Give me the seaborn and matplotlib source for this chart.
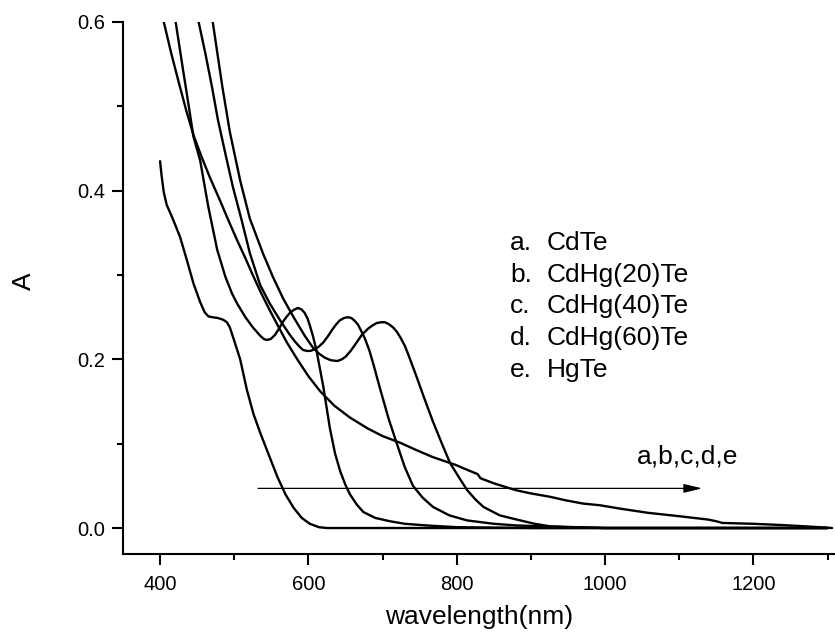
import numpy as np
import pandas as pd
import matplotlib
matplotlib.use("Agg")
import matplotlib.pyplot as plt
import seaborn as sns
from matplotlib.ticker import MultipleLocator, FormatStrFormatter

# ---------------- data ----------------
samples = ["CdTe", "CdHg(20)Te", "CdHg(40)Te", "CdHg(60)Te", "HgTe"]
letters = ["a.", "b.", "c.", "d.", "e."]

wl_a = [400, 402, 405, 409, 416, 427, 436, 445, 454, 460, 465, 470, 478, 485,
        490, 494, 500, 508, 517, 526, 535, 546, 558, 569, 580, 591, 602, 614,
        625, 700, 800, 900, 1000, 1100, 1200, 1300]
A_a = [0.435, 0.418, 0.398, 0.383, 0.369, 0.345, 0.318, 0.290, 0.268, 0.256,
       0.251, 0.250, 0.249, 0.247, 0.244, 0.238, 0.222, 0.200, 0.164, 0.135,
       0.113, 0.088, 0.061, 0.040, 0.024, 0.012, 0.005, 0.001, 0.0,
       0.0, 0.0, 0.0, 0.0, 0.0, 0.0, 0.0]

wl_b = [421, 431, 438, 445, 454, 465, 477, 488, 497, 504, 515, 525, 535, 540,
        544, 549, 555, 560, 566, 571, 576, 581, 586, 591, 595, 599, 602, 606,
        611, 620, 629, 636, 643, 650, 656, 665, 674, 690, 710, 730, 760, 800,
        900, 1000, 1100, 1200, 1300]
A_b = [0.600, 0.543, 0.504, 0.464, 0.436, 0.381, 0.330, 0.298, 0.278, 0.266,
       0.250, 0.238, 0.228, 0.224, 0.223, 0.224, 0.229, 0.236, 0.245, 0.251,
       0.256, 0.259, 0.261, 0.259, 0.255, 0.248, 0.240, 0.228, 0.210, 0.168,
       0.118, 0.088, 0.067, 0.051, 0.040, 0.028, 0.019, 0.012, 0.008, 0.005,
       0.003, 0.001, 0.0, 0.0, 0.0, 0.0, 0.0]

wl_c = [452, 461, 470, 478, 488, 498, 510, 521, 535, 548, 562, 575, 582, 588,
        593, 598, 603, 608, 614, 620, 626, 632, 637, 642, 648, 653, 658, 662,
        667, 671, 676, 682, 688, 697, 708, 720, 730, 741, 754, 768, 790, 814,
        850, 881, 950, 1000, 1100, 1200, 1300]
A_c = [0.600, 0.563, 0.523, 0.484, 0.444, 0.405, 0.365, 0.326, 0.288, 0.266,
       0.246, 0.229, 0.221, 0.215, 0.211, 0.210, 0.210, 0.212, 0.215, 0.220,
       0.227, 0.235, 0.241, 0.246, 0.249, 0.250, 0.249, 0.246, 0.241, 0.234,
       0.225, 0.211, 0.193, 0.164, 0.130, 0.098, 0.072, 0.050, 0.036, 0.025,
       0.015, 0.009, 0.005, 0.003, 0.001, 0.0, 0.0, 0.0, 0.0]

wl_d = [471, 484, 494, 508, 521, 539, 552, 566, 580, 595, 606, 614, 622, 630,
        639, 645, 650, 657, 665, 672, 680, 686, 692, 698, 703, 708, 714, 719,
        724, 730, 735, 746, 757, 768, 780, 791, 803, 814, 825, 836, 858, 881,
        905, 926, 960, 1000, 1100, 1200, 1300]
A_d = [0.600, 0.523, 0.470, 0.412, 0.367, 0.325, 0.298, 0.272, 0.250, 0.228,
       0.214, 0.207, 0.202, 0.199, 0.198, 0.200, 0.203, 0.210, 0.220, 0.229,
       0.236, 0.240, 0.243, 0.244, 0.244, 0.242, 0.238, 0.233, 0.226, 0.216,
       0.205, 0.179, 0.152, 0.126, 0.100, 0.077, 0.060, 0.045, 0.034, 0.025,
       0.015, 0.010, 0.005, 0.002, 0.001, 0.0, 0.0, 0.0, 0.0]

wl_e = [405, 415, 425, 435, 445, 456, 467, 481, 493, 504, 515, 525, 536, 548,
        560, 571, 585, 600, 616, 635, 656, 680, 700, 724, 744, 768, 798, 814,
        828, 832, 850, 879, 900, 926, 946, 970, 993, 1020, 1058, 1100, 1139,
        1150, 1158, 1200, 1239, 1270, 1306]
A_e = [0.600, 0.563, 0.529, 0.496, 0.466, 0.440, 0.416, 0.388, 0.363, 0.341,
       0.320, 0.300, 0.279, 0.258, 0.238, 0.220, 0.200, 0.180, 0.162, 0.145,
       0.131, 0.118, 0.109, 0.101, 0.093, 0.084, 0.075, 0.069, 0.064, 0.059,
       0.053, 0.045, 0.041, 0.037, 0.033, 0.029, 0.027, 0.023, 0.018, 0.014,
       0.010, 0.008, 0.006, 0.005, 0.0035, 0.002, 0.0]

x_ticks = [400, 600, 800, 1000, 1200]
y_ticks = [0.0, 0.2, 0.4, 0.6]
arrow_label = "a,b,c,d,e"
arrow_x = [532, 1131]
arrow_y = 0.047

# ---------------- build table ----------------
series = [(wl_a, A_a), (wl_b, A_b), (wl_c, A_c), (wl_d, A_d), (wl_e, A_e)]
frames = []
for name, (w, a) in zip(samples, series):
    frames.append(pd.DataFrame({"wavelength": w, "A": a, "sample": name}))
df = pd.concat(frames, ignore_index=True)

# ---------------- style ----------------
sns.set_style("ticks")
plt.rcParams["font.family"] = ["Liberation Sans", "DejaVu Sans"]
plt.rcParams["text.color"] = "black"
plt.rcParams["axes.labelcolor"] = "black"
plt.rcParams["xtick.color"] = "black"
plt.rcParams["ytick.color"] = "black"
plt.rcParams["lines.solid_joinstyle"] = "round"

fig = plt.figure(figsize=(8.35, 6.34), dpi=100)
ax = fig.add_axes([0.1473, 0.1262, 0.8527, 0.8391])

sns.lineplot(data=df, x="wavelength", y="A", hue="sample",
             palette={s: "black" for s in samples}, estimator=None,
             sort=False, legend=False, linewidth=1.7, ax=ax)

ax.set_xlim(350, 1310)
ax.set_ylim(-0.0308, 0.6)
ax.set_xticks(x_ticks)
ax.set_yticks(y_ticks)
ax.xaxis.set_minor_locator(MultipleLocator(100))
ax.yaxis.set_minor_locator(MultipleLocator(0.1))
ax.yaxis.set_major_formatter(FormatStrFormatter("%.1f"))

for s in ["top", "right"]:
    ax.spines[s].set_visible(False)
for s in ["left", "bottom"]:
    ax.spines[s].set_linewidth(1.5)
    ax.spines[s].set_color("black")

ax.tick_params(which="major", length=8, width=1.5, direction="out",
               labelsize=14.5, colors="black")
ax.tick_params(which="minor", length=4.5, width=1.5, direction="out",
               colors="black")
ax.tick_params(axis="y", which="major", pad=5)
ax.tick_params(axis="x", which="major", pad=7)

ax.set_xlabel("wavelength(nm)", fontsize=19, labelpad=8, color="black")
ax.set_ylabel("A", fontsize=19, color="black")
ax.yaxis.set_label_coords(-0.122, 0.513)

# composition list
row_y = [0.571, 0.511, 0.453, 0.393, 0.333]
for lt, name, yy in zip(letters, samples, row_y):
    ax.text(0.5435, yy, lt, transform=ax.transAxes, fontsize=19,
            va="baseline", ha="left", color="black")
    ax.text(0.5955, yy, name, transform=ax.transAxes, fontsize=19,
            va="baseline", ha="left", color="black")

# arrow and its label
ax.annotate("", xy=(arrow_x[1], arrow_y), xytext=(arrow_x[0], arrow_y),
            arrowprops=dict(arrowstyle="-|>,head_length=0.75,head_width=0.18",
                            mutation_scale=15, lw=0.9, color="black",
                            shrinkA=0, shrinkB=0))
ax.text(0.722, 0.171, arrow_label, transform=ax.transAxes, fontsize=19,
        va="baseline", ha="left", color="black")

fig.savefig("out.png", dpi=100)
